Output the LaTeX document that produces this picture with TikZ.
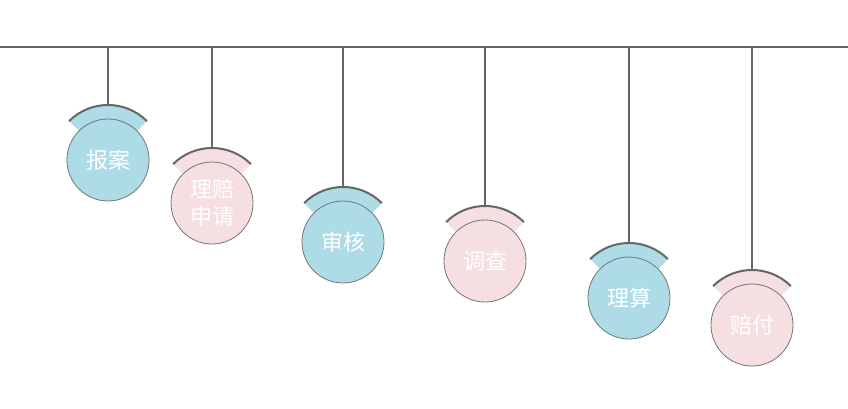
\documentclass[tikz,border=0pt]{standalone}
\usepackage{fontspec}
\newfontfamily\cjk{Noto Sans CJK SC}
\definecolor{capblue}{HTML}{ADDCE6}
\definecolor{cappink}{HTML}{F5DFE0}
\definecolor{wire}{HTML}{666666}
\tikzstyle{bar}=[line width=1.5pt,color=wire]
\tikzstyle{string}=[line width=1.5pt,color=wire]
\tikzstyle{cap rim}=[line width=2pt,color=wire]
\tikzstyle{bubble}=[draw,line width=0.8pt,circle,minimum size=82pt,
    inner sep=0pt,color=wire!90,text=white,
    font=\cjk\fontsize{22}{27}\selectfont,align=center]
\newcommand{\pendant}[4][capblue]{
    \coordinate (#3) at (#2);
    \fill[#1] (#3) ++(45:55pt) arc(45:135:55pt) -- (#3) -- cycle;
    \draw[cap rim] (#3) ++(45:55pt) arc(45:135:55pt);
    \path (#3) ++(90:55pt) coordinate (#3-cap);
    \node[bubble,fill=#1] (#3-ball) at (#3) {#4};
    \draw[string] (#3-cap |- barL) -- (#3-cap);
}

\begin{document}
\begin{tikzpicture}[x=1pt,y=-1pt]
    \useasboundingbox (0,0) rectangle (848,409);
    \coordinate (barL) at (0,47);
    \coordinate (barR) at (848,47);
    \draw[bar] (barL) -- (barR);
    %
    \pendant{108,160}{baoan}{报案}
    \pendant[cappink]{212,203}{shenqing}{理赔\\申请}
    \pendant{343,242}{shenhe}{审核}
    \pendant[cappink]{485,261}{diaocha}{调查}
    \pendant{629,298}{lisuan}{理算}
    \pendant[cappink]{752,325}{peifu}{赔付}
\end{tikzpicture}
\end{document}
